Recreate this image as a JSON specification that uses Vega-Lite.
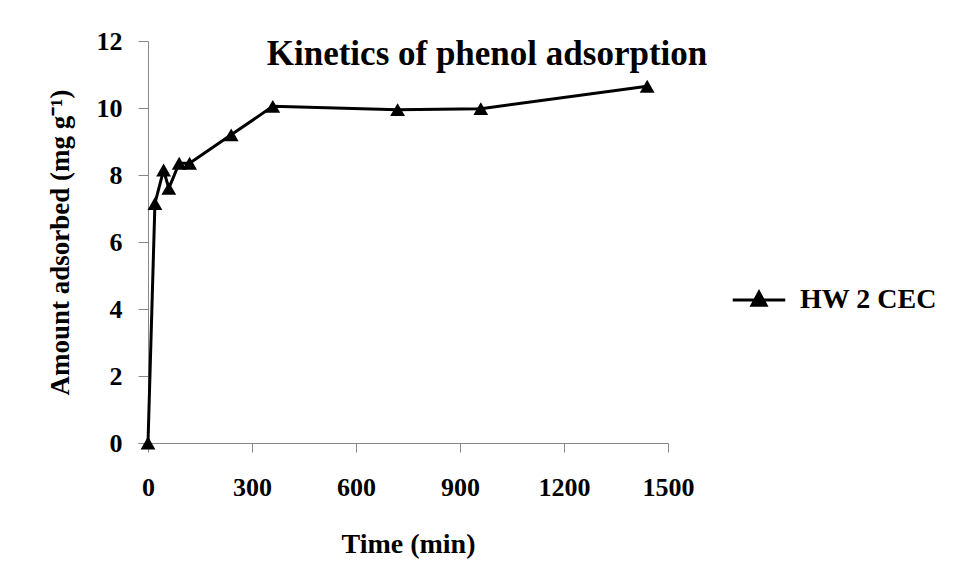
{
  "$schema": "https://vega.github.io/schema/vega-lite/v6.json",
  "autosize": {"type": "none"},
  "width": 520,
  "height": 402,
  "padding": {"left": 148, "top": 41, "right": 289, "bottom": 137},
  "background": "white",
  "config": {
    "view": {"stroke": null},
    "font": "Liberation Serif",
    "axis": {"grid": false, "domainColor": "#888", "tickColor": "#888", "labelColor": "#000", "titleColor": "#000", "labelFont": "Liberation Serif", "titleFont": "Liberation Serif", "labelFontWeight": "bold", "titleFontWeight": "bold"}
  },
  "title": {
    "text": "Kinetics of phenol adsorption",
    "font": "Liberation Serif",
    "fontSize": 35,
    "fontWeight": "bold",
    "color": "#000",
    "anchor": "middle",
    "dx": 79,
    "dy": 48
  },
  "data": {
    "values": [
      {"time": 0, "amount": 0, "series": "HW 2 CEC"},
      {"time": 20, "amount": 7.15, "series": "HW 2 CEC"},
      {"time": 45, "amount": 8.15, "series": "HW 2 CEC"},
      {"time": 60, "amount": 7.6, "series": "HW 2 CEC"},
      {"time": 90, "amount": 8.35, "series": "HW 2 CEC"},
      {"time": 120, "amount": 8.35, "series": "HW 2 CEC"},
      {"time": 240, "amount": 9.2, "series": "HW 2 CEC"},
      {"time": 360, "amount": 10.05, "series": "HW 2 CEC"},
      {"time": 720, "amount": 9.95, "series": "HW 2 CEC"},
      {"time": 960, "amount": 9.98, "series": "HW 2 CEC"},
      {"time": 1440, "amount": 10.65, "series": "HW 2 CEC"}
    ]
  },
  "mark": {"type": "line", "strokeWidth": 3, "point": {"shape": "triangle-up", "filled": true, "size": 220}},
  "encoding": {
    "x": {
      "field": "time", "type": "quantitative", "title": "Time (min)",
      "scale": {"domain": [0, 1500], "nice": false},
      "axis": {"values": [0, 300, 600, 900, 1200, 1500], "format": "d", "labelFontSize": 26, "titleFontSize": 28, "tickSize": 9, "labelPadding": 22, "titlePadding": 30, "labelFlush": false}
    },
    "y": {
      "field": "amount", "type": "quantitative", "title": "Amount adsorbed (mg g⁻¹)",
      "scale": {"domain": [0, 12], "nice": false},
      "axis": {"values": [0, 2, 4, 6, 8, 10, 12], "labelFontSize": 26, "titleFontSize": 27, "tickSize": 10, "labelPadding": 16, "titlePadding": 22}
    },
    "color": {
      "field": "series", "type": "nominal",
      "scale": {"range": ["#000000"]},
      "legend": {
        "title": null,
        "orient": "none",
        "legendX": 592,
        "legendY": 240,
        "symbolType": "M-1.5,0H1.5M0,-0.45L0.4,0.3L-0.4,0.3Z",
        "symbolSize": 1225,
        "symbolStrokeWidth": 3,
        "symbolFillColor": "#000",
        "labelFont": "Liberation Serif",
        "labelFontSize": 28,
        "labelFontWeight": "bold",
        "labelColor": "#000",
        "labelOffset": 22
      }
    }
  }
}
